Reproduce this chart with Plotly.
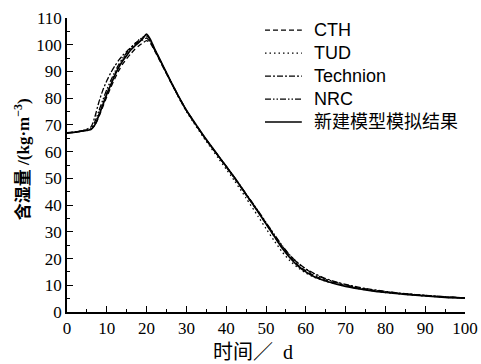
import plotly.graph_objects as go

# Time axis (days)
days = [0, 2, 4, 6, 7, 8, 9, 10, 11, 12, 13, 14, 15, 16, 17, 18, 19, 20, 21, 22,
        23, 24, 26, 28, 30, 32, 35, 38, 40, 42, 45, 48, 50, 52, 54, 56, 58, 60,
        62, 65, 68, 70, 75, 80, 85, 90, 95, 100]

# Moisture content (kg/m^3) for each model
cth = [67.0, 67.3, 67.8, 68.3, 69.8, 73.0, 76.8, 80.5, 84.0, 87.3, 90.3, 92.8, 94.8,
       96.6, 98.2, 99.5, 100.6, 101.5, 100.5, 97.8, 95.0, 92.0, 86.3, 80.6, 75.3,
       70.8, 64.3, 58.3, 54.3, 50.3, 43.8, 37.5, 33.0, 28.5, 24.2, 20.6, 17.6, 15.4,
       13.7, 11.9, 10.6, 9.9, 8.5, 7.5, 6.7, 6.1, 5.6, 5.3]
tud = [67.0, 67.3, 67.8, 68.4, 70.3, 74.0, 78.0, 82.0, 85.5, 89.0, 92.0, 94.6, 96.8,
       98.8, 100.4, 101.8, 102.8, 103.0, 101.2, 98.2, 95.2, 92.2, 86.2, 80.4, 75.0,
       70.4, 63.8, 57.6, 53.5, 49.3, 42.6, 35.8, 31.2, 26.8, 22.6, 19.2, 16.6, 14.6,
       13.1, 11.5, 10.3, 9.6, 8.3, 7.3, 6.6, 6.0, 5.5, 5.2]
technion = [67.0, 67.3, 67.9, 69.2, 73.0, 78.5, 83.0, 86.5, 89.5, 92.0, 94.2, 96.0,
            97.5, 98.8, 100.0, 101.0, 101.8, 102.5, 100.8, 98.1, 95.2, 92.3, 86.4,
            80.7, 75.4, 70.9, 64.4, 58.4, 54.4, 50.4, 44.0, 37.7, 33.3, 29.0, 24.8,
            21.2, 18.4, 16.2, 14.5, 12.5, 11.1, 10.3, 8.8, 7.7, 6.9, 6.2, 5.7, 5.3]
nrc = [67.0, 67.3, 67.8, 68.6, 71.2, 75.2, 79.3, 83.2, 86.6, 89.8, 92.6, 95.0, 97.0,
       98.8, 100.3, 101.6, 102.7, 103.6, 101.5, 98.4, 95.4, 92.4, 86.5, 80.8, 75.5,
       71.0, 64.5, 58.5, 54.5, 50.5, 44.2, 37.9, 33.5, 29.2, 25.0, 21.3, 18.3, 16.0,
       14.3, 12.3, 10.9, 10.1, 8.6, 7.6, 6.8, 6.2, 5.7, 5.3]
new_model = [67.0, 67.3, 67.8, 68.3, 70.0, 73.5, 77.5, 81.5, 85.0, 88.5, 91.5, 94.0,
             96.0, 98.0, 99.5, 100.8, 102.3, 104.0, 101.8, 98.5, 95.5, 92.5, 86.5,
             80.8, 75.5, 71.0, 64.5, 58.5, 54.5, 50.5, 44.0, 37.5, 33.0, 28.5, 24.0,
             20.3, 17.3, 15.0, 13.3, 11.6, 10.3, 9.6, 8.3, 7.3, 6.6, 6.0, 5.5, 5.2]

names = ["CTH", "TUD", "Technion", "NRC", "新建模型模拟结果"]
values = [cth, tud, technion, nrc, new_model]
dashes = ["5px,3px", "1.5px,3px", "6px,2px,2px,2px", "6px,2px,1.5px,2px,1.5px,2px", "solid"]
widths = [1.3, 1.3, 1.3, 1.3, 1.7]

SERIF = "Liberation Serif, Noto Sans CJK SC, serif"
SANS = "Liberation Sans, Noto Sans CJK SC, sans-serif"

fig = go.Figure()
for name, vals, dash, width in zip(names, values, dashes, widths):
    fig.add_trace(go.Scatter(
        x=days, y=vals, name=name, mode="lines", cliponaxis=False, showlegend=False,
        line=dict(color="black", width=width, dash=dash, shape="spline", smoothing=0.6),
    ))

axis_common = dict(
    showgrid=False, zeroline=False, showline=True, linecolor="black", linewidth=1.5,
    ticks="inside", ticklen=6, tickwidth=1.3, tickcolor="black",
    tickfont=dict(family=SERIF, size=17, color="black"),
    minor=dict(ticks="inside", ticklen=3.5, tickwidth=1.2, tickcolor="black", dtick=5),
    mirror=False, automargin=False,
)

fig.update_xaxes(range=[0, 100], dtick=10, tick0=0, **axis_common)
fig.update_yaxes(range=[0, 110], dtick=10, tick0=0, **axis_common)

# Legend block in the upper right: sample line + label per series
legend_top = 0.959       # paper y of the first entry
legend_step = 0.0782     # vertical spacing between entries (paper units)
sample_x0, sample_x1, label_x = 0.4975, 0.590, 0.6156
shapes = []
annotations = []
for i, (name, dash, width) in enumerate(zip(names, dashes, widths)):
    y = legend_top - i * legend_step
    shapes.append(dict(type="line", xref="paper", yref="paper",
                       x0=sample_x0, x1=sample_x1, y0=y, y1=y,
                       line=dict(color="black", width=width, dash=dash)))
    annotations.append(dict(text=name, xref="paper", yref="paper", x=label_x, y=y,
                            xanchor="left", yanchor="middle", showarrow=False,
                            font=dict(family=SANS, size=18, color="black")))

annotations += [
    dict(text="<b>含湿量 /(kg·m<sup>−3</sup>)</b>", xref="paper", yref="paper",
         x=-0.113, y=0.52, textangle=-90, showarrow=False,
         xanchor="center", yanchor="middle",
         font=dict(family=SERIF, size=17, color="black")),
    dict(text="时间／\u2002d", xref="paper", yref="paper",
         x=0.467, y=-0.136, showarrow=False, xanchor="center", yanchor="middle",
         font=dict(family=SERIF, size=20, color="black")),
]

fig.update_layout(
    width=481, height=364,
    margin=dict(l=67, r=16, t=18, b=52, autoexpand=False),
    paper_bgcolor="white", plot_bgcolor="white",
    shapes=shapes,
    annotations=annotations,
)

fig.write_html("out.html")
